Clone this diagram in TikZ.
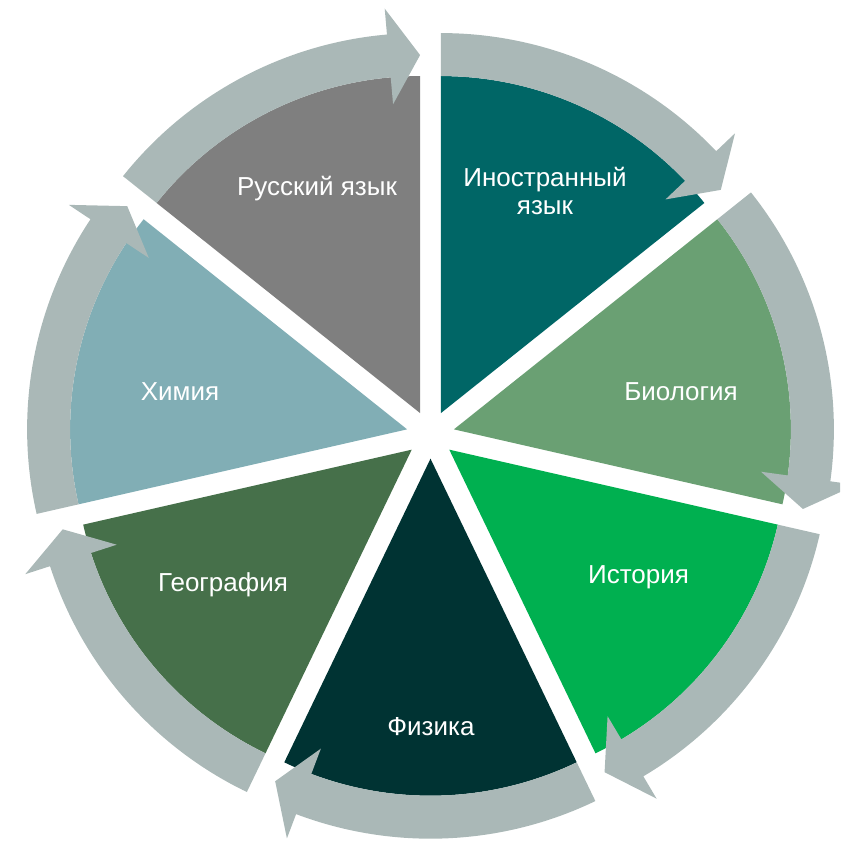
\documentclass[tikz,border=0pt]{standalone}
\usepackage{fontspec}
\setmainfont{Liberation Sans}
\usepackage{tikz}

\definecolor{rusgray}{RGB}{127,127,127}
\definecolor{inoteal}{RGB}{0,102,102}
\definecolor{biogreen}{RGB}{106,160,115}
\definecolor{istgreen}{RGB}{0,176,80}
\definecolor{fizdark}{RGB}{0,51,51}
\definecolor{geogreen}{RGB}{70,112,74}
\definecolor{himblue}{RGB}{129,174,181}
\definecolor{arrowgray}{RGB}{170,184,183}

\begin{document}
\begin{tikzpicture}[x=1pt,y=1pt,
    slice/.style={draw=none},
    band/.style={fill=arrowgray,draw=none},
    lbl/.style={text=white,align=center,font=\fontsize{26}{28}\selectfont}]
    \clip (-430.5,-407.3) rectangle (409.5,434.7);

    \fill[slice,fill=inoteal,shift={(64.286:24pt)}] (0,0) -- (90:337pt) arc[start angle=90, end angle=38.571, radius=337pt] -- cycle;
    \fill[slice,fill=biogreen,shift={(12.857:24pt)}] (0,0) -- (38.571:337pt) arc[start angle=38.571, end angle=-12.857, radius=337pt] -- cycle;
    \fill[slice,fill=istgreen,shift={(-38.571:24pt)}] (0,0) -- (-12.857:337pt) arc[start angle=-12.857, end angle=-64.286, radius=337pt] -- cycle;
    \fill[slice,fill=fizdark,shift={(-90:24pt)}] (0,0) -- (-64.286:337pt) arc[start angle=-64.286, end angle=-115.714, radius=337pt] -- cycle;
    \fill[slice,fill=geogreen,shift={(-141.429:24pt)}] (0,0) -- (-115.714:337pt) arc[start angle=-115.714, end angle=-167.143, radius=337pt] -- cycle;
    \fill[slice,fill=himblue,shift={(167.143:24pt)}] (0,0) -- (192.857:337pt) arc[start angle=192.857, end angle=141.429, radius=337pt] -- cycle;
    \fill[slice,fill=rusgray,shift={(115.714:24pt)}] (0,0) -- (141.429:337pt) arc[start angle=141.429, end angle=90, radius=337pt] -- cycle;

    \fill[band,shift={(64.286:24pt)}] (90:380pt) arc[start angle=90, end angle=43.571, radius=380pt] -- (43.571:406pt) -- (38.571:358pt) -- (43.571:310pt) -- (43.571:337pt) arc[start angle=43.571, end angle=90, radius=337pt] -- cycle;
    \fill[band,shift={(12.857:24pt)}] (38.571:380pt) arc[start angle=38.571, end angle=-7.857, radius=380pt] -- (-7.857:406pt) -- (-12.857:358pt) -- (-7.857:310pt) -- (-7.857:337pt) arc[start angle=-7.857, end angle=38.571, radius=337pt] -- cycle;
    \fill[band,shift={(-38.571:24pt)}] (-12.857:380pt) arc[start angle=-12.857, end angle=-59.286, radius=380pt] -- (-59.286:406pt) -- (-64.286:358pt) -- (-59.286:310pt) -- (-59.286:337pt) arc[start angle=-59.286, end angle=-12.857, radius=337pt] -- cycle;
    \fill[band,shift={(-90:24pt)}] (-64.286:380pt) arc[start angle=-64.286, end angle=-110.714, radius=380pt] -- (-110.714:406pt) -- (-115.714:358pt) -- (-110.714:310pt) -- (-110.714:337pt) arc[start angle=-110.714, end angle=-64.286, radius=337pt] -- cycle;
    \fill[band,shift={(-141.429:24pt)}] (-115.714:380pt) arc[start angle=-115.714, end angle=-162.143, radius=380pt] -- (-162.143:406pt) -- (-167.143:358pt) -- (-162.143:310pt) -- (-162.143:337pt) arc[start angle=-162.143, end angle=-115.714, radius=337pt] -- cycle;
    \fill[band,shift={(167.143:24pt)}] (192.857:380pt) arc[start angle=192.857, end angle=146.429, radius=380pt] -- (146.429:406pt) -- (141.429:358pt) -- (146.429:310pt) -- (146.429:337pt) arc[start angle=146.429, end angle=192.857, radius=337pt] -- cycle;
    \fill[band,shift={(115.714:24pt)}] (141.429:380pt) arc[start angle=141.429, end angle=95, radius=380pt] -- (95:406pt) -- (90:358pt) -- (95:310pt) -- (95:337pt) arc[start angle=95, end angle=141.429, radius=337pt] -- cycle;

    \node[lbl] (rus) at (-113.5,245.7) {Русский язык};
    \node[lbl] (ino) at (114.5,243.7) {Иностранный\\язык};
    \node[lbl] (bio) at (250.5,42.7) {Биология};
    \node[lbl] (ist) at (208,-142.3) {История};
    \node[lbl] (fiz) at (0.5,-292.3) {Физика};
    \node[lbl] (geo) at (-207.5,-150.3) {География};
    \node[lbl] (him) at (-250.5,42.7) {Химия};
\end{tikzpicture}
\end{document}
